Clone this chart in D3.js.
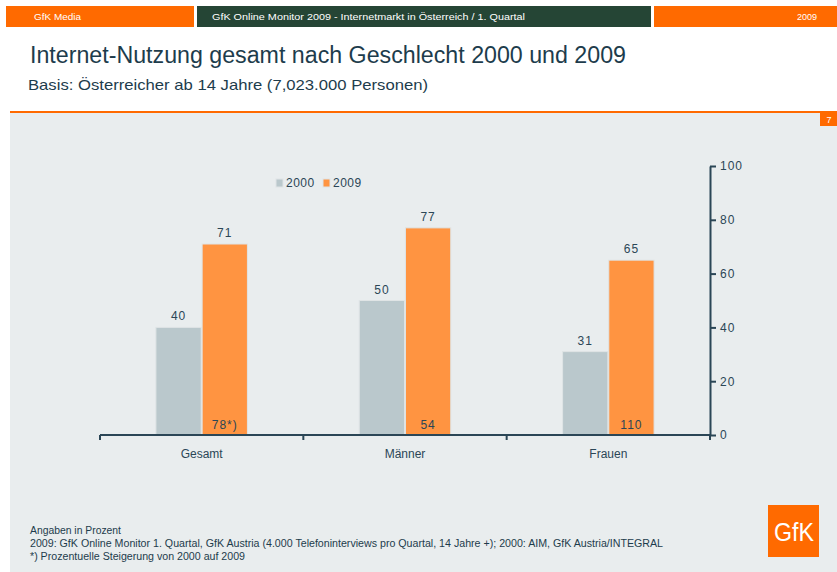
<!DOCTYPE html>
<html lang="de">
<head>
<meta charset="UTF-8">
<title>Internet-Nutzung gesamt nach Geschlecht</title>
<script src="https://d3js.org/d3.v7.min.js"></script>
<style>
  body { margin: 0; background: #fff; }
  svg { display: block; font-family: 'Liberation Sans', Arial, sans-serif; }
</style>
</head>
<body>
<div id="chart"></div>
<script>
// chart data
const categories = ["Gesamt", "Männer", "Frauen"];
const series = ["2000", "2009"];
const values2000 = [40, 50, 31];
const values2009 = [71, 77, 65];
const growthLabels = ["78*)", "54", "110"];
const yTicks = [0, 20, 40, 60, 80, 100];

const W = 837, H = 572;
const ink = "#2b4656";
const grey = "#bac8cc", orange = "#ff9441", hot = "#ff6a00";
const narrow = "'Liberation Sans Narrow', 'Liberation Sans', sans-serif";

const svg = d3.select("#chart").append("svg")
    .attr("width", W).attr("height", H);

// header bars
svg.append("rect").attr("x", 6).attr("y", 6).attr("width", 188).attr("height", 21).attr("fill", hot);
svg.append("rect").attr("x", 197).attr("y", 6).attr("width", 454).attr("height", 21).attr("fill", "#254535");
svg.append("rect").attr("x", 654).attr("y", 6).attr("width", 183).attr("height", 21).attr("fill", hot);
const hdr = svg.append("g").attr("fill", "#fff").style("font-size", "9px").style("font-family", narrow);
hdr.append("text").attr("x", 34).attr("y", 20).attr("textLength", 47).attr("lengthAdjust", "spacingAndGlyphs").text("GfK Media");
hdr.append("text").attr("x", 212).attr("y", 20).attr("textLength", 313).attr("lengthAdjust", "spacingAndGlyphs")
    .text("GfK Online Monitor 2009 - Internetmarkt in Österreich / 1. Quartal");
hdr.append("text").attr("x", 817).attr("y", 20).attr("text-anchor", "end").text("2009");

// titles
svg.append("text").attr("x", 30).attr("y", 63).attr("fill", "#1d3c4c")
    .style("font-size", "23px").attr("textLength", 596).attr("lengthAdjust", "spacingAndGlyphs")
    .text("Internet-Nutzung gesamt nach Geschlecht 2000 und 2009");
svg.append("text").attr("x", 28).attr("y", 90).attr("fill", "#1d3c4c")
    .style("font-size", "15px").attr("textLength", 400).attr("lengthAdjust", "spacingAndGlyphs")
    .text("Basis: Österreicher ab 14 Jahre (7,023.000 Personen)");

// panel
svg.append("rect").attr("x", 10).attr("y", 113).attr("width", W - 10).attr("height", H - 113).attr("fill", "#e9edee");
svg.append("rect").attr("x", 10).attr("y", 111).attr("width", W - 10).attr("height", 2).attr("fill", hot);
svg.append("rect").attr("x", 820).attr("y", 113).attr("width", 17).attr("height", 13).attr("fill", hot);
svg.append("text").attr("x", 829).attr("y", 123).attr("text-anchor", "middle").attr("fill", "#fff")
    .style("font-size", "9px").text("7");

// scales
const x = d3.scaleBand().domain(categories).range([100, 710]);
const y = d3.scaleLinear().domain([0, 100]).range([435, 166]);
const bw = x.bandwidth();
const xs = d3.scaleBand().domain(series).range([bw * 0.275, bw * 0.725]).paddingInner(0.02);

const rows = categories.map((c, i) => ({ c, v: [values2000[i], values2009[i]], g: growthLabels[i] }));

const groups = svg.append("g").selectAll("g").data(rows).join("g")
    .attr("transform", d => `translate(${x(d.c)},0)`);

groups.selectAll("rect").data(d => d.v.map((v, j) => ({ s: series[j], v })))
    .join("rect")
    .attr("x", d => xs(d.s))
    .attr("y", d => y(d.v))
    .attr("width", xs.bandwidth())
    .attr("height", d => y(0) - y(d.v))
    .attr("fill", d => d.s === "2000" ? grey : orange)
    .attr("stroke", "#dfe4e5").attr("stroke-width", 1);

groups.selectAll("text.val").data(d => d.v.map((v, j) => ({ s: series[j], v })))
    .join("text").attr("class", "val")
    .attr("x", d => xs(d.s) + xs.bandwidth() / 2)
    .attr("y", d => y(d.v) - 7)
    .attr("text-anchor", "middle").attr("fill", ink)
    .style("font-size", "12px").style("letter-spacing", "1px")
    .text(d => d.v);

groups.append("text")
    .attr("x", xs("2009") + xs.bandwidth() / 2)
    .attr("y", y(0) - 6)
    .attr("text-anchor", "middle").attr("fill", ink)
    .style("font-size", "12px").style("letter-spacing", "1px")
    .text(d => d.g);

groups.append("text")
    .attr("x", bw / 2).attr("y", 458)
    .attr("text-anchor", "middle").attr("fill", ink)
    .style("font-size", "12px")
    .text(d => d.c);

// x axis
const xa = svg.append("g").attr("stroke", ink).attr("stroke-width", 2);
xa.append("line").attr("x1", x.range()[0]).attr("x2", x.range()[1]).attr("y1", y(0)).attr("y2", y(0));
const bounds = categories.map(c => x(c)).concat([x.range()[1]]);
xa.selectAll("line.t").data(bounds).join("line").attr("class", "t")
    .attr("x1", d => d).attr("x2", d => d).attr("y1", y(0)).attr("y2", y(0) + 5);

// y axis
const ya = svg.append("g").attr("transform", `translate(${x.range()[1]},0)`)
    .call(d3.axisRight(y).tickValues(yTicks).tickSize(6).tickSizeOuter(0).tickPadding(4));
ya.select(".domain").attr("stroke", ink).attr("stroke-width", 2);
ya.selectAll(".tick line").attr("stroke", ink).attr("stroke-width", 2);
ya.selectAll(".tick text").attr("fill", ink).style("font-size", "12px").style("letter-spacing", "1px")
    .style("font-family", "'Liberation Sans', Arial, sans-serif");

// legend
const leg = svg.append("g").attr("transform", "translate(276,179)");
series.forEach((s, i) => {
  const g = leg.append("g").attr("transform", `translate(${i * 47},0)`);
  g.append("rect").attr("width", 7).attr("height", 8).attr("fill", i ? orange : grey)
      .attr("stroke", "#dfe4e5").attr("stroke-width", 1);
  g.append("text").attr("x", 10).attr("y", 8).attr("fill", ink)
      .style("font-size", "12px").style("letter-spacing", "0.5px").text(s);
});

// footnotes
const foot = svg.append("g").attr("fill", "#1d3c4c").style("font-size", "10px")
    .style("font-family", narrow).attr("lengthAdjust", "spacingAndGlyphs");
foot.append("text").attr("x", 30).attr("y", 534).attr("textLength", 91).attr("lengthAdjust", "spacingAndGlyphs")
    .text("Angaben in Prozent");
foot.append("text").attr("x", 30).attr("y", 547).attr("textLength", 633).attr("lengthAdjust", "spacingAndGlyphs")
    .text("2009: GfK Online Monitor 1. Quartal, GfK Austria (4.000 Telefoninterviews pro Quartal, 14 Jahre +); 2000: AIM, GfK Austria/INTEGRAL");
foot.append("text").attr("x", 30).attr("y", 560).attr("textLength", 215).attr("lengthAdjust", "spacingAndGlyphs")
    .text("*) Prozentuelle Steigerung von 2000 auf 2009");

// logo
svg.append("rect").attr("x", 768).attr("y", 505).attr("width", 51).attr("height", 52).attr("fill", hot);
svg.append("text").attr("x", 794).attr("y", 541).attr("text-anchor", "middle").attr("fill", "#fff")
    .style("font-size", "25px").style("font-family", narrow)
    .attr("textLength", 40).attr("lengthAdjust", "spacingAndGlyphs").text("GfK");
</script>
</body>
</html>
